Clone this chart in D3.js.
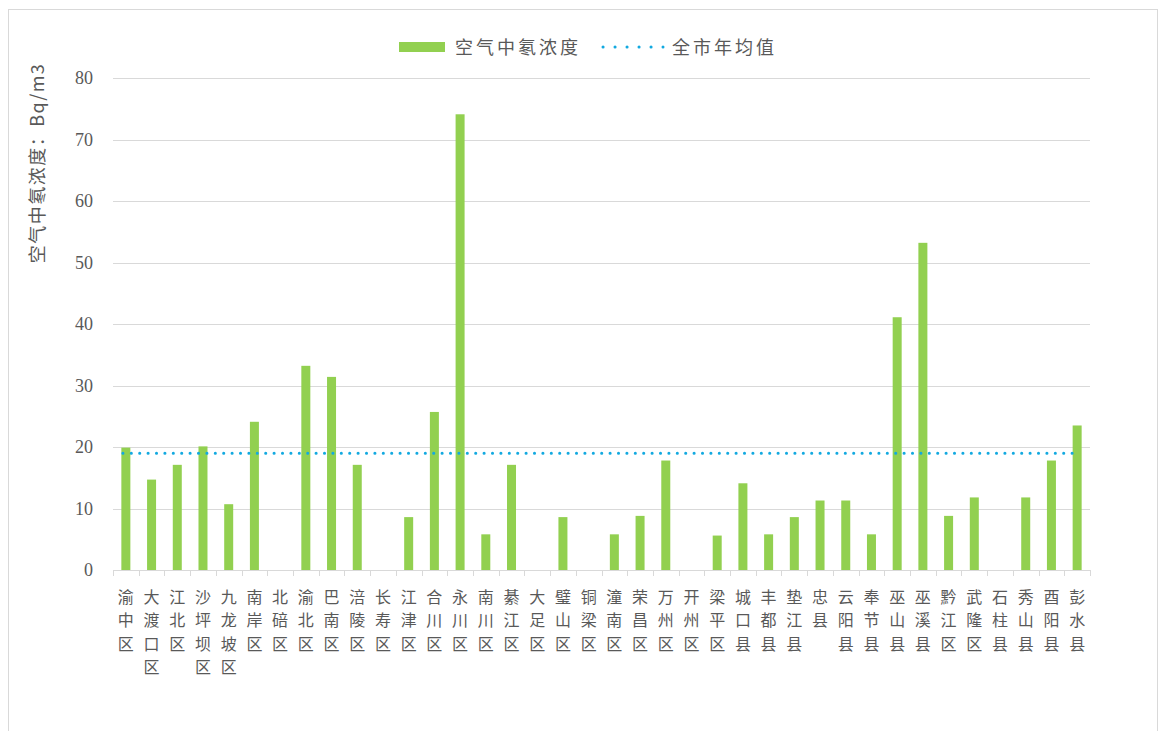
<!DOCTYPE html>
<html>
<head>
<meta charset="utf-8">
<script src="https://cdn.jsdelivr.net/npm/d3@7/dist/d3.min.js"></script>
<style>
  html, body { margin: 0; padding: 0; background: #fff; }
  svg { display: block; }
</style>
</head>
<body>
<svg id="chart" width="1160" height="731"></svg>
<script>
// Districts and counties of Chongqing
const districts = [
  "渝中区","大渡口区","江北区","沙坪坝区","九龙坡区","南岸区","北碚区","渝北区",
  "巴南区","涪陵区","长寿区","江津区","合川区","永川区","南川区","綦江区",
  "大足区","璧山区","铜梁区","潼南区","荣昌区","万州区","开州区","梁平区",
  "城口县","丰都县","垫江县","忠县","云阳县","奉节县","巫山县","巫溪县",
  "黔江区","武隆区","石柱县","秀山县","酉阳县","彭水县"
];
// Indoor-air radon concentration, Bq/m3 (0 = not measured)
const radon = [
  19.9, 14.7, 17.1, 20.1, 10.7, 24.1, 0, 33.2,
  31.4, 17.1, 0, 8.6, 25.7, 74.1, 5.8, 17.1,
  0, 8.6, 0, 5.8, 8.8, 17.8, 0, 5.6,
  14.1, 5.8, 8.6, 11.3, 11.3, 5.8, 41.1, 53.2,
  8.8, 11.8, 0, 11.8, 17.8, 23.5
];
// City-wide annual mean
const cityMean = 19;
const yTicks = [0, 10, 20, 30, 40, 50, 60, 70, 80];
const seriesNames = ["空气中氡浓度", "全市年均值"];
const yTitle = "空气中氡浓度：Bq/m3";

const svg = d3.select("#chart");
const cjk = "'Noto Sans CJK SC', 'Noto Sans', sans-serif";
const serif = "'Liberation Serif', 'DejaVu Serif', serif";
const textColor = "#595959";
const barColor = "#92d050";
const meanColor = "#12a9e0";
const gridColor = "#d9d9d9";

// outer frame
svg.append("rect")
  .attr("x", 8.5).attr("y", 9.5)
  .attr("width", 1149).attr("height", 740)
  .attr("fill", "none").attr("stroke", "#d9d9d9");

const plot = { left: 113, right: 1090, top: 78, bottom: 570 };

const x = d3.scaleBand().domain(districts).range([plot.left, plot.right]).padding(0);
const y = d3.scaleLinear().domain([0, 80]).range([plot.bottom, plot.top]);
const barW = x.bandwidth() * 0.35;

// horizontal gridlines
svg.append("g").selectAll("line")
  .data(yTicks.filter(d => d > 0))
  .join("line")
  .attr("x1", plot.left).attr("x2", plot.right)
  .attr("y1", d => Math.round(y(d)) + 0.5).attr("y2", d => Math.round(y(d)) + 0.5)
  .attr("stroke", gridColor).attr("stroke-width", 1);

// y-axis labels
const yAxis = d3.axisLeft(y).tickValues(yTicks).tickSize(0).tickPadding(0);
const yg = svg.append("g").attr("transform", `translate(${plot.left - 20},0)`).call(yAxis);
yg.select(".domain").remove();
yg.selectAll("text")
  .attr("font-family", serif).attr("font-size", 18).attr("fill", textColor);

// y-axis title
svg.append("text")
  .attr("transform", `translate(44,163) rotate(-90)`)
  .attr("text-anchor", "middle")
  .attr("font-family", cjk).attr("font-size", 18).attr("fill", textColor)
  .attr("letter-spacing", 1.5)
  .text(yTitle);

// bars
svg.append("g").selectAll("rect")
  .data(radon.map((v, i) => ({ name: districts[i], v })))
  .join("rect")
  .attr("x", d => x(d.name) + (x.bandwidth() - barW) / 2)
  .attr("width", barW)
  .attr("y", d => y(d.v))
  .attr("height", d => y(0) - y(d.v))
  .attr("fill", barColor);

// x-axis line and boundary ticks
const xg = svg.append("g");
xg.append("line")
  .attr("x1", plot.left).attr("x2", plot.right)
  .attr("y1", plot.bottom + 0.5).attr("y2", plot.bottom + 0.5)
  .attr("stroke", gridColor);
const bounds = districts.map(d => x(d)).concat([plot.right]);
xg.selectAll("line.tick")
  .data(bounds)
  .join("line").attr("class", "tick")
  .attr("x1", d => Math.round(d) + 0.5).attr("x2", d => Math.round(d) + 0.5)
  .attr("y1", plot.bottom).attr("y2", plot.bottom + 6)
  .attr("stroke", gridColor);

// category labels, stacked vertically one character per line
const lab = svg.append("g");
districts.forEach(name => {
  const cx = x(name) + x.bandwidth() / 2;
  const t = lab.append("text")
    .attr("text-anchor", "middle")
    .attr("font-family", cjk).attr("font-size", 16).attr("fill", textColor);
  Array.from(name).forEach((ch, i) => {
    t.append("tspan").attr("x", cx).attr("y", 603 + i * 23.4).text(ch);
  });
});

// city-wide mean line
svg.append("line")
  .attr("x1", x(districts[0]) + x.bandwidth() / 2 - 3)
  .attr("x2", x(districts[districts.length - 1]) + x.bandwidth() / 2)
  .attr("y1", y(cityMean)).attr("y2", y(cityMean))
  .attr("stroke", meanColor).attr("stroke-width", 3)
  .attr("stroke-linecap", "round")
  .attr("stroke-dasharray", "0.1 8.3");

// legend
const lg = svg.append("g");
lg.append("rect").attr("x", 399).attr("y", 42).attr("width", 46).attr("height", 10).attr("fill", barColor);
lg.append("text").attr("x", 455).attr("y", 53.5)
  .attr("font-family", cjk).attr("font-size", 18).attr("fill", textColor)
  .attr("letter-spacing", 3)
  .text(seriesNames[0]);
lg.append("line").attr("x1", 603).attr("x2", 663).attr("y1", 47).attr("y2", 47)
  .attr("stroke", meanColor).attr("stroke-width", 3)
  .attr("stroke-linecap", "round").attr("stroke-dasharray", "0.1 11.9");
lg.append("text").attr("x", 672).attr("y", 53.5)
  .attr("font-family", cjk).attr("font-size", 18).attr("fill", textColor)
  .attr("letter-spacing", 3)
  .text(seriesNames[1]);
</script>
</body>
</html>
